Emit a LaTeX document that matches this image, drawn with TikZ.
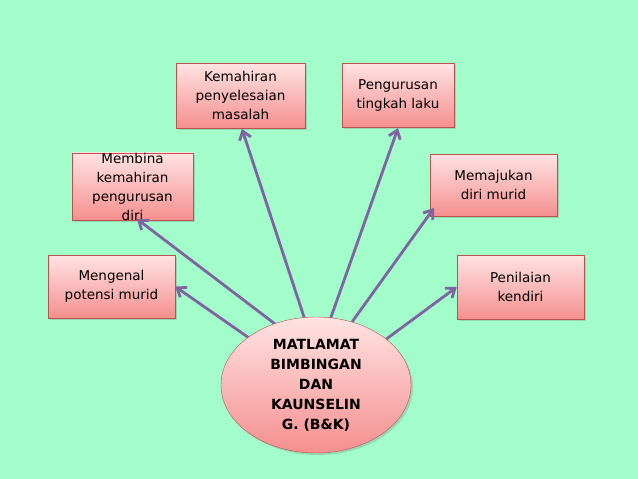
\documentclass[tikz,border=0pt]{standalone}
\usepackage{fontspec}
\setmainfont{DejaVu Sans}
\usetikzlibrary{shapes.geometric,arrows.meta,shadows}
\definecolor{bg}{HTML}{A2FDCB}
\definecolor{pinkt}{HTML}{FFE3E3}
\definecolor{pinkb}{HTML}{F58F8F}
\definecolor{bord}{HTML}{B85450}
\definecolor{arr}{HTML}{8064A2}
\tikzset{
  box/.style={draw=bord, top color=pinkt, bottom color=pinkb, inner sep=0pt, align=center, font=\fontsize{13.5}{19}\selectfont, drop shadow={opacity=0.3, shadow xshift=2pt, shadow yshift=-2pt}},
  conn/.style={draw=arr, line width=2.8pt, -{Straight Barb[length=8pt,width=12pt]}}
}
\begin{document}
\begin{tikzpicture}[x=1pt,y=-1pt]
\fill[bg] (0,0) rectangle (638,479);
\useasboundingbox (0,0) rectangle (638,479);
\node[box, minimum width=129pt, minimum height=65pt] (a) at (240.5,95.5) {Kemahiran\\penyelesaian\\masalah};
\node[box, minimum width=112pt, minimum height=64pt] (b) at (398,95) {Pengurusan\\tingkah laku};
\node[box, minimum width=121pt, minimum height=65pt] (c) at (132.5,186.5) {Membina\\kemahiran\\pengurusan\\diri};
\node[box, minimum width=127pt, minimum height=62pt] (d) at (493.5,185) {Memajukan\\diri murid};
\node[box, minimum width=127pt, minimum height=63pt] (e) at (111.5,286.5) {Mengenal\\potensi murid};
\node[box, minimum width=127pt, minimum height=64pt] (f) at (520.5,287) {Penilaian\\kendiri};
\coordinate (s1) at (252,340);
\coordinate (s2) at (283,330);
\coordinate (s3) at (305,320);
\coordinate (s4) at (330,320);
\coordinate (s5) at (352,322);
\coordinate (s6) at (385,340);
\draw[conn] (s1) -- (e.east);
\draw[conn] (s2) -- (137,219);
\draw[conn] (s3) -- (242,129);
\draw[conn] (s4) -- (398,128);
\draw[conn] (s5) -- (434,208);
\draw[conn] (s6) -- (f.west);
\node[ellipse, draw=bord, top color=pinkt, bottom color=pinkb, minimum width=190pt, minimum height=136pt, inner sep=0pt, align=center, font=\bfseries\fontsize{14}{20}\selectfont, drop shadow={opacity=0.3, shadow xshift=2pt, shadow yshift=-2pt}] (m) at (316,385) {MATLAMAT\\BIMBINGAN\\DAN\\KAUNSELIN\\G. (B\&K)};
\end{tikzpicture}
\end{document}
